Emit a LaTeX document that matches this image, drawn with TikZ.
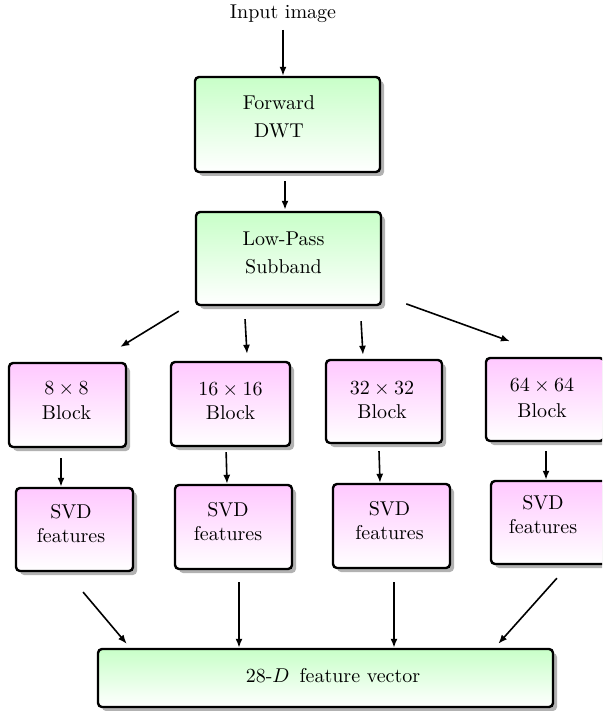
\documentclass[tikz,border=0pt]{standalone}
\usetikzlibrary{shadows,arrows.meta}
\definecolor{gtop}{RGB}{200,255,200}
\definecolor{ptop}{RGB}{255,200,255}
\tikzset{
 box/.style={draw=black, line width=1.2pt, rounded corners=2pt, bottom color=white,
   drop shadow={shadow xshift=2pt, shadow yshift=-2pt, fill=black!30, opacity=1}, inner sep=0pt},
 gbox/.style={box, top color=gtop, bottom color=white},
 pbox/.style={box, top color=ptop, bottom color=white},
 lbl/.style={align=center, font=\normalsize},
 arr/.style={-{Latex[length=4.5pt,width=3.5pt]}, line width=0.8pt},
 tarr/.style={-{Latex[length=4.5pt,width=3.5pt]}, line width=1.4pt},
}
\begin{document}
\begin{tikzpicture}[x=0.5pt,y=-0.5pt]
\clip (0,0) rectangle (602,711);
\node[lbl] (in) at (283,14) {Input image};
\node[gbox, minimum width=92.5pt, minimum height=47.5pt,
  label={[lbl,xshift=-4.25pt,yshift=3.75pt]center:{Forward\\[2pt]DWT}}] (fd) at (287.5,124.5) {};
\node[gbox, minimum width=92.5pt, minimum height=46.5pt,
  label={[lbl,xshift=-2.5pt,yshift=2.75pt]center:{Low-Pass\\[2pt]Subband}}] (lp) at (288.5,258.5) {};
\node[pbox, minimum width=58.5pt, minimum height=42pt,
  label={[lbl,xshift=-0.5pt,yshift=2.25pt]center:{$8\times8$\\[0.5pt]Block}}] (b8) at (67.5,405) {};
\node[pbox, minimum width=59.5pt, minimum height=42pt,
  label={[lbl,xshift=0pt,yshift=1.25pt]center:{$16\times16$\\Block}}] (b16) at (230.5,404) {};
\node[pbox, minimum width=58pt, minimum height=41.5pt,
  label={[lbl,xshift=-1pt,yshift=0.75pt]center:{$32\times32$\\Block}}] (b32) at (384,401.5) {};
\node[pbox, minimum width=59pt, minimum height=41.5pt,
  label={[lbl,xshift=-1.5pt,yshift=0.5pt]center:{$64\times64$\\[1pt]Block}}] (b64) at (545,399.5) {};
\node[pbox, minimum width=58.5pt, minimum height=41.5pt,
  label={[lbl,xshift=-1.75pt,yshift=3pt]center:{SVD\\features}}] (s1) at (74.5,529.5) {};
\node[pbox, minimum width=58.5pt, minimum height=42pt,
  label={[lbl,xshift=-2.75pt,yshift=2.75pt]center:{SVD\\features}}] (s2) at (233.5,527) {};
\node[pbox, minimum width=58.5pt, minimum height=42pt,
  label={[lbl,xshift=-1pt,yshift=2.75pt]center:{SVD\\features}}] (s3) at (391.5,526) {};
\node[pbox, minimum width=58.5pt, minimum height=41.5pt,
  label={[lbl,xshift=-3.25pt,yshift=3.75pt]center:{SVD\\features}}] (s4) at (549.5,522.5) {};
\node[gbox, minimum width=227.5pt, minimum height=29pt,
  label={[lbl,xshift=3.75pt,yshift=1pt]center:{28-$D$\enspace feature vector}}] (fv) at (325.5,678) {};

\draw[arr] (in.south) -- (in.south |- fd.north);
\draw[tarr, shorten <=4pt, shorten >=0.5pt] ([xshift=-1.25pt]fd.south) -- ([xshift=-1.75pt]lp.north);
\draw[arr, shorten <=4.7pt, shorten >=14.2pt] ([xshift=-4pt]lp.south west) -- ([xshift=14.25pt]b8.north);
\draw[arr, shorten <=6.5pt, shorten >=3.5pt] ([xshift=-22.1pt]lp.south) -- ([xshift=8.45pt]b16.north);
\draw[arr, shorten <=7.5pt, shorten >=2pt] ([xshift=35.85pt]lp.south) -- ([xshift=-10.4pt]b32.north);
\draw[arr, shorten <=12.8pt, shorten >=22.9pt] ([yshift=5.5pt]lp.south east) -- ([xshift=4pt]b64.north);
\draw[tarr, shorten <=5pt] ([xshift=-3.25pt]b8.south) -- ([xshift=-6.75pt]s1.north);
\draw[arr, shorten <=2.5pt] ([xshift=-2.25pt]b16.south) -- ([xshift=-3.25pt]s2.north);
\draw[arr, shorten <=3.5pt] ([xshift=-2.6pt]b32.south) -- ([xshift=-5.75pt]s3.north);
\draw[tarr, shorten <=4.5pt] ([xshift=0.5pt]b64.south) -- ([xshift=-1.75pt]s4.north);
\draw[arr, shorten <=13pt, shorten >=2.6pt] ([xshift=-4.1pt]s1.south) -- ([xshift=16.65pt]fv.north west);
\draw[tarr, shorten <=6pt] ([xshift=2.75pt]s2.south) -- ([xshift=2.75pt]s2.south |- fv.north);
\draw[tarr, shorten <=6.5pt] ([xshift=1.25pt]s3.south) -- ([xshift=1.25pt]s3.south |- fv.north);
\draw[arr, shorten <=8.7pt, shorten >=2.7pt] ([xshift=9.5pt]s4.south) -- ([xshift=-29.75pt]fv.north east);
\end{tikzpicture}
\end{document}
